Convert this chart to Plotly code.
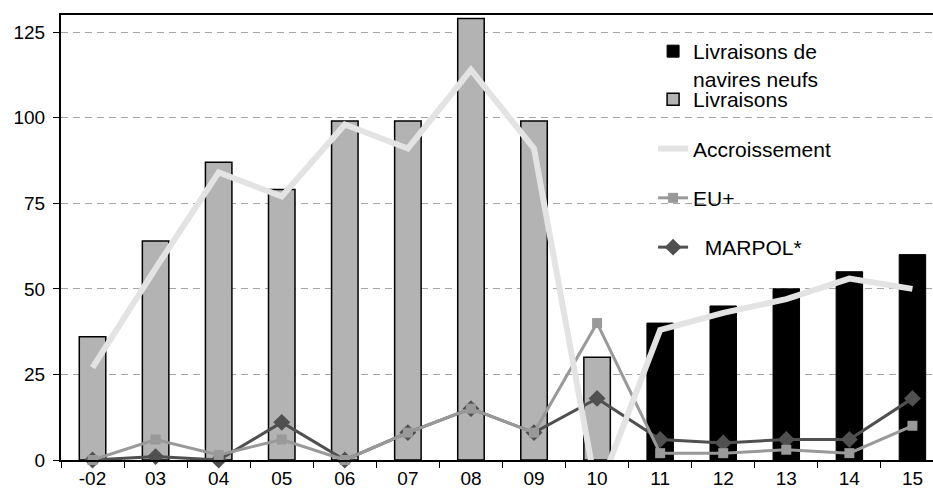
import plotly.graph_objects as go

# Years on the category axis
years = ['-02', '03', '04', '05', '06', '07', '08', '09', '10', '11', '12', '13', '14', '15']

# Deliveries (historic) and deliveries of new ships (forecast)
livraisons = [36, 64, 87, 79, 99, 99, 129, 99, 30, None, None, None, None, None]
navires_neufs = [None, None, None, None, None, None, None, None, None, 40, 45, 50, 55, 60]

# Line series
accroissement = [27, 56, 84, 77, 98, 91, 114, 91, -10, 38, 43, 47, 53, 50]
eu_plus = [0, 6, 1.5, 6, 0, 8, 15, 8, 40, 2, 2, 3, 2, 10]
marpol = [0, 1, 0, 11, 0, 8, 15, 8, 18, 6, 5, 6, 6, 18]

y_ticks = [0, 25, 50, 75, 100, 125]

FONT = "Arial, 'Liberation Sans', sans-serif"

fig = go.Figure()

fig.add_trace(go.Bar(
    x=years, y=navires_neufs, name="Livraisons de<br>navires neufs",
    marker=dict(color="black", line=dict(color="black", width=1)),
    width=0.42, legend="legend", showlegend=True,
))
fig.add_trace(go.Bar(
    x=years, y=livraisons, name="Livraisons",
    marker=dict(color="#b3b3b3", line=dict(color="black", width=1.5)),
    width=0.42, legend="legend2", legendgroup="g1", legendrank=1, showlegend=True,
))
fig.add_trace(go.Scatter(
    x=years, y=marpol, name="  MARPOL*", mode="lines+markers",
    line=dict(color="#505050", width=3),
    marker=dict(symbol="diamond", size=13, color="#505050"),
    cliponaxis=False, legend="legend2", legendgroup="g4", legendrank=4, showlegend=True,
))
fig.add_trace(go.Scatter(
    x=years, y=eu_plus, name="EU+", mode="lines+markers",
    line=dict(color="#999999", width=3),
    marker=dict(symbol="square", size=10, color="#999999"),
    cliponaxis=False, legend="legend2", legendgroup="g3", legendrank=3, showlegend=True,
))
fig.add_trace(go.Scatter(
    x=years, y=accroissement, name="Accroissement", mode="lines",
    line=dict(color="#e3e3e3", width=6),
    legend="legend2", legendgroup="g2", legendrank=2, showlegend=True,
))

fig.update_layout(
    width=933, height=499,
    margin=dict(l=61, r=0, t=15, b=39),
    paper_bgcolor="white", plot_bgcolor="white",
    barmode="overlay", showlegend=True,
    font=dict(family=FONT, color="black", size=19),
    legend=dict(
        x=0.679, y=0.964, xanchor="left", yanchor="top",
        bgcolor="rgba(0,0,0,0)", valign="top",
        font=dict(family=FONT, size=21, color="black"),
    ),
    legend2=dict(
        x=0.679, y=0.856, xanchor="left", yanchor="top",
        bgcolor="rgba(0,0,0,0)", traceorder="grouped", tracegroupgap=19,
        font=dict(family=FONT, size=21, color="black"),
    ),
    xaxis=dict(
        type="category", range=[-0.5, 13.326],
        showline=True, linecolor="black", linewidth=2, mirror=True,
        ticks="outside", tickson="boundaries", ticklen=6, tickcolor="black", tickwidth=1,
        showgrid=False, tickfont=dict(size=19, color="black"),
    ),
    yaxis=dict(
        range=[0, 130], tickvals=y_ticks,
        showline=True, linecolor="black", linewidth=2,
        ticks="outside", ticklen=6, tickcolor="black", tickwidth=1,
        showgrid=True, gridcolor="#a6a6a6", gridwidth=1, griddash="7px,5px",
        zeroline=False, tickfont=dict(size=19, color="black"),
        ticklabelstandoff=4,
    ),
)

fig.write_html("out.html")
